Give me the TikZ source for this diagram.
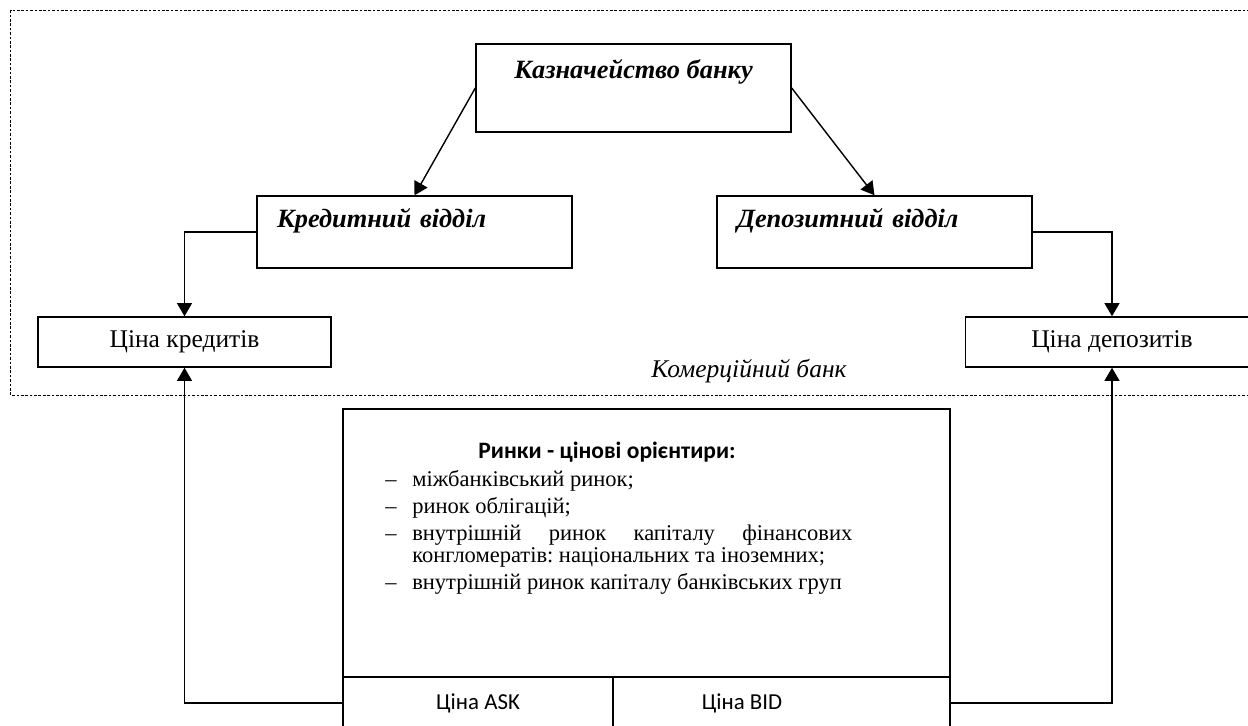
\documentclass[tikz,border=0pt]{standalone}
\usepackage{fontspec}
\setmainfont{Liberation Serif}
\newfontfamily\calibri{Carlito}
\usetikzlibrary{arrows.meta,positioning}

\newcommand{\rynokitem}[1]{\par\hangindent=0.54cm\hangafter=1\noindent\makebox[0.54cm][l]{–}#1}

\begin{document}
\frenchspacing
\begin{tikzpicture}[
  box/.style={draw,line width=0.8pt,inner sep=0pt},
  unit/.style={box,font=\fontsize{15}{18}\selectfont\bfseries\itshape},
  price/.style={box,font=\fontsize{14.5}{17}\selectfont,minimum width=5.86cm,minimum height=1cm},
  cell/.style={box,minimum height=1.04cm},
  celltext/.style={font=\calibri\fontsize{13}{15}\selectfont},
  arr/.style={line width=0.8pt,-{Triangle[length=7.5pt,width=8.5pt]}}
]
\clip (0,0) rectangle (24.96,14.52);

% frame of the bank
\draw[line width=0.4pt,dash pattern=on 1.5pt off 1pt] (0.21,6.62) rectangle (25.6,14.31);
\node[font=\fontsize{14.5}{17}\selectfont\itshape,anchor=base] (bank) at (14.98,6.96) {Комерційний банк};

\node[unit,minimum width=6.3cm,text height=0.7cm,text depth=1.06cm] (kazna) at (12.67,12.76) {Казначейство банку};

\node[unit,text width=5.5cm,inner xsep=0.4cm,text height=0.64cm,text depth=0.8cm] (kred) at (8.29,9.88) {Кредитний відділ};
\node[unit,text width=5.5cm,inner xsep=0.4cm,text height=0.64cm,text depth=0.8cm] (depo) at (17.49,9.88) {Депозитний відділ};

\node[price] (cinakred) at (3.69,7.68) {Ціна кредитів};
\node[price] (cinadep) at (22.24,7.68) {Ціна депозитів};

% markets
\node[box,minimum width=12.14cm,minimum height=5.36cm] (rynky) at (12.93,3.66) {};
\node[font=\calibri\bfseries\fontsize{13.4}{15}\selectfont,anchor=base] (rhead) at (12.14,5.34) {Ринки - цінові орієнтири:};
\node[anchor=north west,inner sep=0pt,text width=9.34cm,align=justify,font=\fontsize{12.8}{12.5}\selectfont] (rlist) at (7.7,5.33) {%
  \setlength{\parskip}{2.85pt}%
  \rynokitem{міжбанківський ринок;}
  \rynokitem{ринок облігацій;}
  \rynokitem{внутрішній ринок капіталу фінансових\linebreak конгломератів: національних та іноземних;}
  \rynokitem{внутрішній ринок капіталу банківських груп}\par};

\node[cell,minimum width=5.4cm] (ask) at (9.56,0.46) {};
\node[cell,minimum width=6.74cm] (bid) at (15.63,0.46) {};
\node[celltext] (asktext) at (ask.center) {Ціна ASK};
\node[celltext] (bidtext) at (14.84,0.46) {Ціна BID};

\draw[arr] (kazna.west) -- (kred.north);
\draw[arr] (kazna.east) -- (depo.north);
\draw[arr] (kred.west) -| (cinakred.north);
\draw[arr] (depo.east) -| (cinadep.north);
\draw[arr] (ask.west) -| (cinakred.south);
\draw[arr] (bid.east) -| (cinadep.south);

\end{tikzpicture}
\end{document}
